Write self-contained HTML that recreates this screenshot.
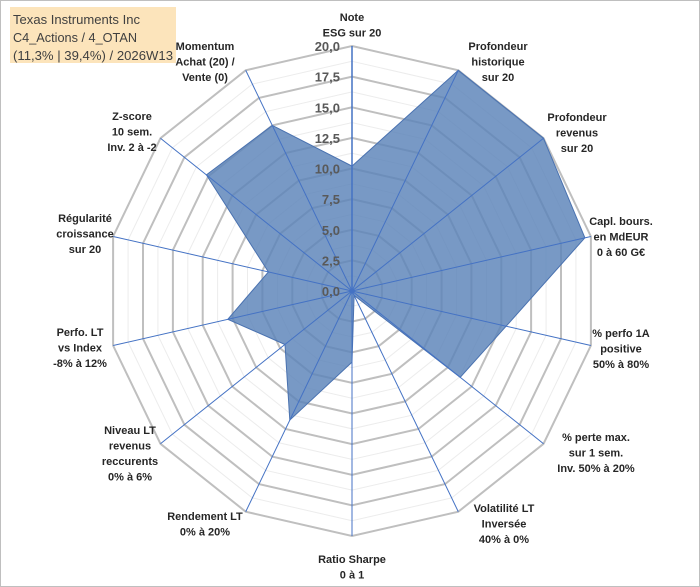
<!DOCTYPE html>
<html><head><meta charset="utf-8"><style>
html,body{margin:0;padding:0;background:#fff}
svg{display:block;font-family:"Liberation Sans",Arial,sans-serif}
.cat{font-size:11px;font-weight:bold;fill:#262626}
.tick{font-size:13px;font-weight:bold;fill:#595959}
</style></head><body>
<svg id="chart" width="700" height="587" viewBox="0 0 700 587">
<rect x="0.5" y="0.5" width="699" height="586" fill="#fff" stroke="#bfbfbf"/>
<g id="grid"></g>
<g id="series"></g>
<g id="spokes"></g>
<g id="ticks"></g>
<g id="cats"></g>
<g>
<rect x="10" y="7" width="166" height="56" fill="#fce4bb"/>
<text x="13" y="24" font-size="13" fill="#404040" textLength="127" lengthAdjust="spacingAndGlyphs">Texas Instruments Inc</text>
<text x="13" y="42" font-size="13" fill="#404040" textLength="124" lengthAdjust="spacingAndGlyphs">C4_Actions / 4_OTAN</text>
<text x="13" y="60" font-size="13" fill="#404040" textLength="160" lengthAdjust="spacingAndGlyphs">(11,3% | 39,4%) / 2026W13</text>
</g>
</svg>
<script>
const categories = [["Note","ESG sur 20"],["Profondeur","historique","sur 20"],["Profondeur","revenus","sur 20"],["Capl. bours.","en MdEUR","0 à 60 G€"],["% perfo 1A","positive","50% à 80%"],["% perte max.","sur 1 sem.","Inv. 50% à 20%"],["Volatilité LT","Inversée","40% à 0%"],["Ratio Sharpe","0 à 1"],["Rendement LT","0% à 20%"],["Niveau LT","revenus","reccurents","0% à 6%"],["Perfo. LT","vs Index","-8% à 12%"],["Régularité","croissance","sur 20"],["Z-score","10 sem.","Inv. 2 à -2"],["Momentum","Achat (20) /","Vente (0)"]];
const values = [10.2,20,20,19.5,12.9,11.3,0.4,5.8,11.7,7,10.4,7,15.2,15];
const tickLabels = ["0,0","2,5","5,0","7,5","10,0","12,5","15,0","17,5","20,0"];
const maxVal = 20;
const cx=352, cy=291, R=245, NS="http://www.w3.org/2000/svg";
const n=categories.length;
function ang(i){return 2*Math.PI*i/n;}
function px(i,v){return cx+R*(v/maxVal)*Math.sin(ang(i));}
function py(i,v){return cy-R*(v/maxVal)*Math.cos(ang(i));}
function mk(tag,attrs,parent){const e=document.createElementNS(NS,tag);for(const k in attrs)e.setAttribute(k,attrs[k]);parent.appendChild(e);return e;}
const grid=document.getElementById('grid');
for(let k=1;k<=16;k++){const v=k*1.25;const pts=[];for(let i=0;i<n;i++)pts.push(px(i,v).toFixed(1)+","+py(i,v).toFixed(1));
const major=k%2===0;
const p=mk('polygon',{points:pts.join(' '),fill:'none',stroke:major?'#bfbfbf':'#ececec','stroke-width':major?2:1},grid);

}
const ser=document.getElementById('series');
const sp=[];for(let i=0;i<n;i++)sp.push(px(i,values[i]).toFixed(1)+","+py(i,values[i]).toFixed(1));
const poly=mk('polygon',{points:sp.join(' '),fill:'#5a83b8','fill-opacity':0.82,stroke:'#4a72b0','stroke-width':1},ser);


const spk=document.getElementById('spokes');
for(let i=0;i<n;i++){const l=mk('line',{x1:cx,y1:cy,x2:px(i,maxVal),y2:py(i,maxVal),stroke:'#4472c4','stroke-width':i===0?1.5:1},spk);

}
mk('circle',{cx:cx,cy:cy,r:2.5,fill:'#4472c4'},spk);
const tk=document.getElementById('ticks');
tickLabels.forEach((t,k)=>{const v=k*2.5;const e=mk('text',{x:cx-12,y:py(0,v)+5,'text-anchor':'end',class:'tick'},tk);e.textContent=t;

});
const labelPos=[[352,17],[498,46],[577,117],[621,221],[621,333],[596,437],[504,508],[352,559],[205,516],[130,430],[80,332],[85,218],[132,116],[205,46]];
const cg=document.getElementById('cats');
categories.forEach((lines,i)=>{const t=mk('text',{x:labelPos[i][0],y:labelPos[i][1]+4,'text-anchor':'middle',class:'cat'},cg);


lines.forEach((s,j)=>{const ts=mk('tspan',{x:labelPos[i][0],dy:j===0?0:15.5},t);ts.textContent=s;});});
</script>
</body></html>
